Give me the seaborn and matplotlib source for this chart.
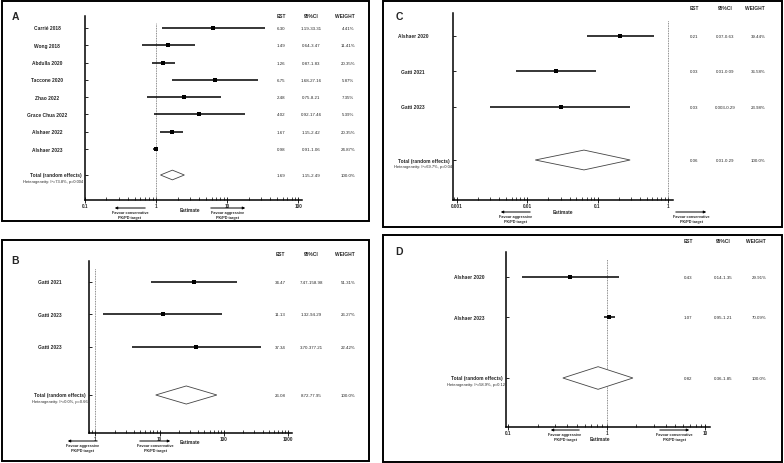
import numpy as np
import pandas as pd
import matplotlib
matplotlib.use('Agg')
import matplotlib.pyplot as plt
from matplotlib.patches import Rectangle, Polygon, FancyArrowPatch
from matplotlib.ticker import FixedLocator, FuncFormatter, LogLocator, NullFormatter
import matplotlib.transforms as mtransforms
import seaborn as sns

# ---- data: panel A
a_studies = ['Carrié 2018', 'Wong 2018', 'Abdulla 2020', 'Taccone 2020', 'Zhao 2022',
             'Grace Chua 2022', 'Alshaer 2022', 'Alshaer 2023']
a_est = [6.30, 1.49, 1.26, 6.75, 2.48, 4.02, 1.67, 0.98]
a_lo = [1.19, 0.64, 0.87, 1.68, 0.75, 0.92, 1.15, 0.91]
a_hi = [33.31, 3.47, 1.83, 27.16, 8.21, 17.46, 2.42, 1.06]
a_est_txt = ['6.30', '1.49', '1.26', '6.75', '2.48', '4.02', '1.67', '0.98', '1.69']
a_ci_txt = ['1.19-33.31', '0.64-3.47', '0.87-1.83', '1.68-27.16', '0.75-8.21',
            '0.92-17.46', '1.15-2.42', '0.91-1.06', '1.15-2.49']
a_w_txt = ['4.41%', '11.41%', '20.35%', '5.87%', '7.35%', '5.39%', '20.35%', '24.87%', '100.0%']
a_total = [1.69, 1.15, 2.49]
a_het = 'Heterogeneity: I²=73.8%, p=0.004'

# ---- data: panel B
b_studies = ['Gatti 2021', 'Gatti 2023', 'Gatti 2023']
b_est = [34.47, 11.13, 37.34]
b_lo = [7.47, 1.32, 3.70]
b_hi = [158.98, 94.29, 377.21]
b_est_txt = ['34.47', '11.13', '37.34', '26.08']
b_ci_txt = ['7.47-158.98', '1.32-94.29', '3.70-377.21', '8.72-77.95']
b_w_txt = ['51.31%', '26.27%', '22.42%', '100.0%']
b_total = [26.08, 8.72, 77.95]
b_het = 'Heterogeneity: I²=0.0%, p=0.66'

# ---- data: panel C
c_studies = ['Alshaer 2020', 'Gatti 2021', 'Gatti 2023']
c_est = [0.21, 0.026, 0.03]
c_lo = [0.07, 0.007, 0.003]
c_hi = [0.63, 0.095, 0.29]
c_est_txt = ['0.21', '0.03', '0.03', '0.06']
c_ci_txt = ['0.07-0.63', '0.01-0.09', '0.003-0.29', '0.01-0.29']
c_w_txt = ['39.44%', '36.58%', '23.98%', '100.0%']
c_total = [0.064, 0.013, 0.29]
c_het = 'Heterogeneity: I²=69.7%, p=0.04'

# ---- data: panel D
d_studies = ['Alshaer 2020', 'Alshaer 2023']
d_est = [0.43, 1.07]
d_lo = [0.14, 0.95]
d_hi = [1.35, 1.21]
d_est_txt = ['0.43', '1.07', '0.82']
d_ci_txt = ['0.14-1.35', '0.95-1.21', '0.36-1.85']
d_w_txt = ['29.91%', '70.09%', '100.0%']
d_total = [0.82, 0.36, 1.85]
d_het = 'Heterogeneity: I²=58.9%, p=0.12'

FAV_CONS = 'Favour conservative\nPK/PD target'
FAV_AGGR = 'Favour aggressive\nPK/PD target'

W, H = 784, 464
sns.set_theme(style='white')
plt.rcParams['font.family'] = ['Liberation Sans', 'DejaVu Sans']

fig = plt.figure(figsize=(W / 100, H / 100), dpi=100)


def fx(x):
    return x / W


def fy(y):
    return 1 - y / H


def box(x0, y0, x1, y1):
    fig.add_artist(Rectangle((fx(x0), fy(y1)), fx(x1 - x0), (y1 - y0) / H,
                             transform=fig.transFigure, fill=False, ec='black', lw=1.4))


def arrow(x0, x1, y, txt):
    fig.add_artist(FancyArrowPatch((fx(x0), fy(y)), (fx(x1), fy(y)), transform=fig.transFigure,
                                   arrowstyle='-|>', mutation_scale=3.5, lw=0.7, color='black'))
    fig.text(fx((x0 + x1) / 2), fy(y + 2), txt, ha='center', va='top', fontsize=2.7,
             fontweight='bold', linespacing=1.5)


def panel(letter, lay, studies, est, lo, hi, total, est_txt, ci_txt, w_txt, het):
    n = len(studies)
    gap = 1.5
    rows = list(range(n))
    ytot = n - 1 + gap
    # row spacing in pixels
    s = (lay['rtot'] - lay['r0']) / ytot
    top, bot = lay['top'], lay['bot']
    left, right = lay['left'], lay['right']
    ax = fig.add_axes([fx(left), fy(bot), fx(right - left), (bot - top) / H])
    ax.set_xscale('log')
    ax.set_xlim(lay['xlim'])
    ax.set_ylim((bot - lay['r0']) / s, -(lay['r0'] - top) / s)

    df = pd.DataFrame({'study': studies, 'est': est, 'lo': lo, 'hi': hi, 'row': rows})
    ax.hlines(df['row'], df['lo'], df['hi'], color='black', lw=1.1)
    sns.scatterplot(data=df, x='est', y='row', marker='s', s=12, color='black',
                    edgecolor='black', linewidth=0, ax=ax, zorder=3)
    m, l, h = total
    dh = 0.28
    ax.add_patch(Polygon([(l, ytot), (m, ytot - dh), (h, ytot), (m, ytot + dh)], closed=True,
                         fc='white', ec='#444444', lw=0.6, zorder=3))
    ax.axvline(1, ymax=0.96, color='#666666', lw=0.6, ls=(0, (1, 1)), zorder=1)

    sns.despine(ax=ax)
    for sp in ['left', 'bottom']:
        ax.spines[sp].set_color('black')
        ax.spines[sp].set_linewidth(1.1)
    ax.set_xlabel('')
    ax.set_ylabel('')
    ax.set_yticks(rows + [ytot])
    ax.set_yticklabels([])
    ax.tick_params(axis='y', direction='in', length=2.5, width=0.6, color='black', left=True)
    lo_exp = int(np.ceil(np.log10(lay['xlim'][0]) - 1e-9))
    hi_exp = int(np.floor(np.log10(lay['xlim'][1]) + 1e-9))
    ax.xaxis.set_major_locator(FixedLocator([10.0 ** e for e in range(lo_exp, hi_exp + 1)]))
    ax.xaxis.set_major_formatter(FuncFormatter(lambda v, p: '%g' % v))
    ax.xaxis.set_minor_locator(LogLocator(base=10, subs=np.arange(2, 10)))
    ax.xaxis.set_minor_formatter(NullFormatter())
    ax.tick_params(axis='x', which='major', direction='inout', length=4, width=0.6,
                   labelsize=3.3, pad=0.5, color='black', bottom=True)
    ax.tick_params(axis='x', which='minor', direction='in', length=2, width=0.5,
                   color='black', bottom=True)
    for t in ax.get_xticklabels():
        t.set_fontweight('bold')

    # labels left of the axis
    tr = mtransforms.blended_transform_factory(fig.transFigure, ax.transData)
    for i, name in enumerate(studies):
        ax.text(fx(lay['lab']), i, name, transform=tr, ha='center', va='center',
                fontsize=3.5, fontweight='bold')
    ax.annotate('Total (random effects)', xy=(0, ytot), xycoords=('axes fraction', 'data'),
                xytext=(-2.5, 0), textcoords='offset points', ha='right', va='center',
                fontsize=3.5, fontweight='bold', annotation_clip=False)
    ax.annotate(het, xy=(0, ytot), xycoords=('axes fraction', 'data'),
                xytext=(-1, -4.3), textcoords='offset points', ha='right', va='center',
                fontsize=2.9, annotation_clip=False)

    # table columns
    cx = lay['cols']
    hy = lay['hy']
    for x, head in zip(cx, ['EST', '95%CI', 'WEIGHT']):
        fig.text(fx(x), fy(hy), head, ha='center', va='center', fontsize=3.5, fontweight='bold')
    for i, (e, c, w) in enumerate(zip(est_txt, ci_txt, w_txt)):
        yy = rows[i] if i < n else ytot
        ax.text(fx(cx[0]), yy, e, transform=tr, ha='center', va='center', fontsize=3.2)
        ax.text(fx(cx[1]), yy, c, transform=tr, ha='center', va='center', fontsize=3.2)
        ax.text(fx(cx[2] + 3), yy, w, transform=tr, ha='center', va='center', fontsize=3.2)

    fig.text(fx(lay['letter'][0]), fy(lay['letter'][1]), letter, ha='center', va='center',
             fontsize=7.5, fontweight='bold')
    fig.text(fx(lay['estim'][0]), fy(lay['estim'][1]), 'Estimate', ha='center', va='center',
             fontsize=3.5, fontweight='bold')
    for x0, x1, y, txt in lay['arrows']:
        arrow(x0, x1, y, txt)
    return ax


box(2, 2, 369, 222)
box(2, 241, 369, 462)
box(383, 2, 782, 228)
box(383, 236, 782, 463)

lay_a = dict(left=85, right=302, top=17, bot=201, r0=29, rtot=176, xlim=(0.1, 112), lab=47,
             cols=(281, 311, 345), hy=16, letter=(15, 17), estim=(190, 211),
             arrows=[(148, 112, 209, FAV_CONS), (208, 248, 209, FAV_AGGR)])
lay_b = dict(left=89, right=292, top=262, bot=434, r0=283, rtot=396, xlim=(0.8, 1150), lab=50,
             cols=(280, 311, 345), hy=255, letter=(15, 261), estim=(190, 443),
             arrows=[(100, 65, 442, FAV_AGGR), (137, 173, 442, FAV_CONS)])
lay_c = dict(left=453, right=673, top=14, bot=201, r0=37, rtot=161, xlim=(0.00088, 1.18), lab=413,
             cols=(694, 725, 755), hy=9, letter=(399, 17), estim=(563, 213),
             arrows=[(533, 498, 213, FAV_AGGR), (673, 709, 213, FAV_CONS)])
lay_d = dict(left=506, right=710, top=253, bot=428, r0=278, rtot=379, xlim=(0.0954, 11.2), lab=469,
             cols=(688, 723, 756), hy=242, letter=(399, 252), estim=(600, 440),
             arrows=[(582, 548, 431, FAV_AGGR), (657, 692, 431, FAV_CONS)])

panel('A', lay_a, a_studies, a_est, a_lo, a_hi, a_total, a_est_txt, a_ci_txt, a_w_txt, a_het)
panel('B', lay_b, b_studies, b_est, b_lo, b_hi, b_total, b_est_txt, b_ci_txt, b_w_txt, b_het)
panel('C', lay_c, c_studies, c_est, c_lo, c_hi, c_total, c_est_txt, c_ci_txt, c_w_txt, c_het)
panel('D', lay_d, d_studies, d_est, d_lo, d_hi, d_total, d_est_txt, d_ci_txt, d_w_txt, d_het)

fig.savefig('out.png', dpi=100)
